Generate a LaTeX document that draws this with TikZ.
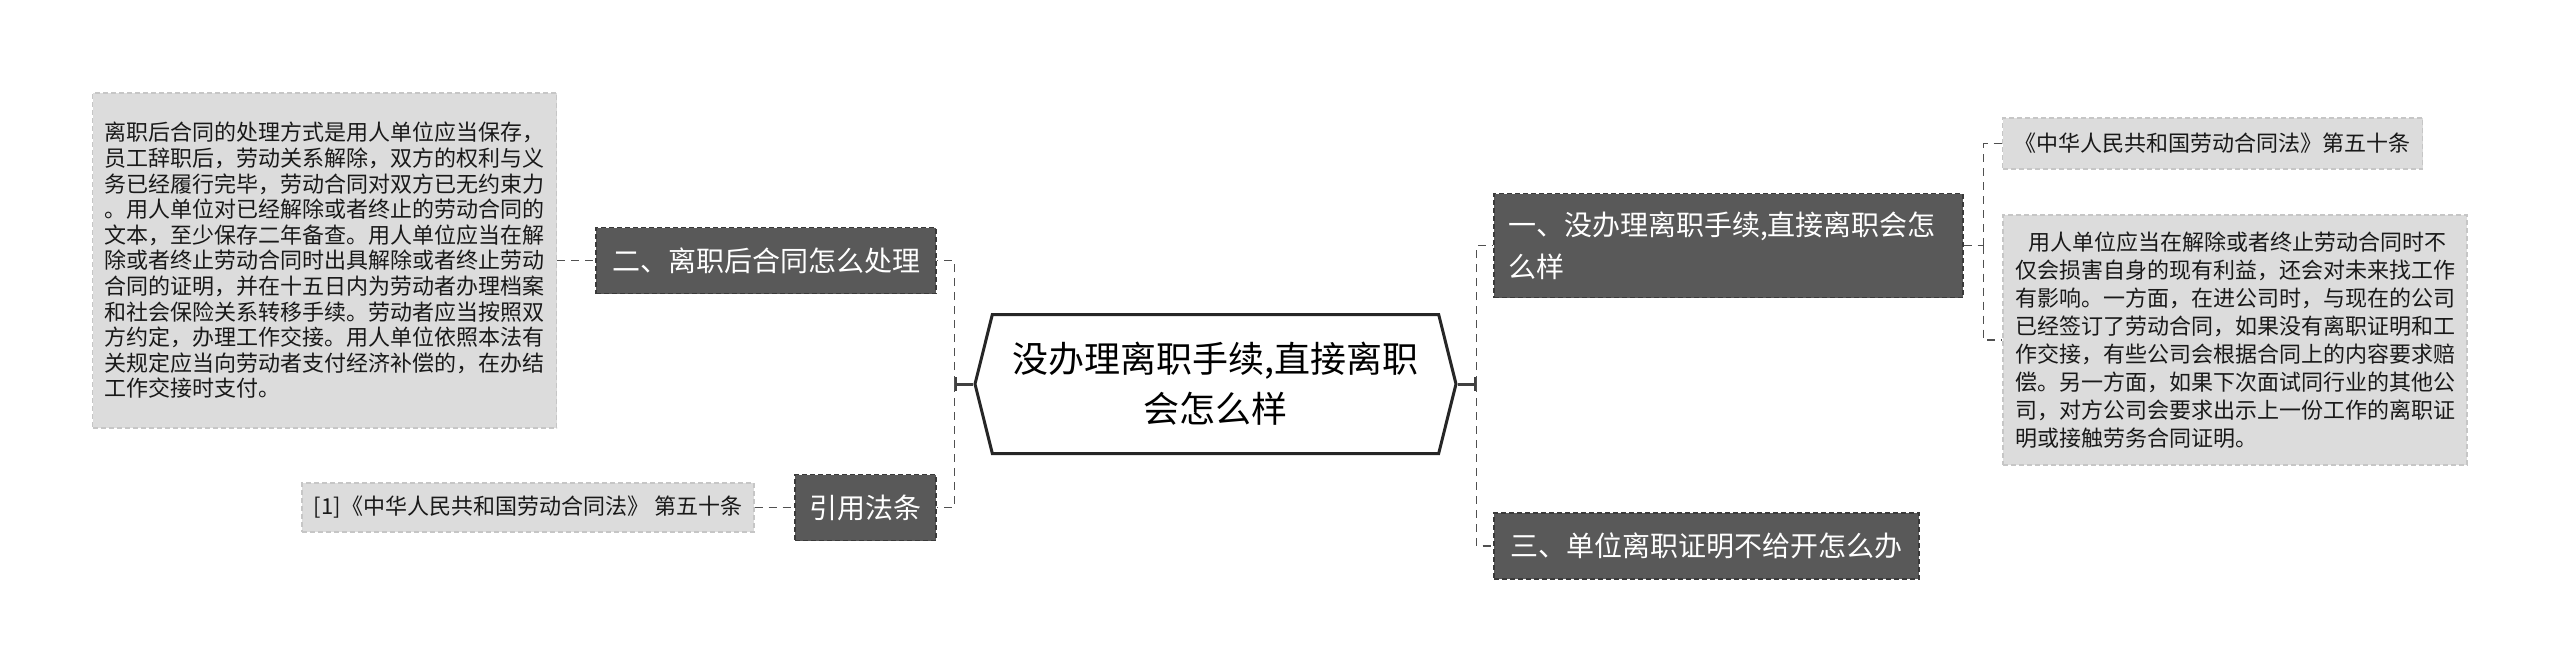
\documentclass[tikz,border=0pt]{standalone}
\usepackage{fontspec}
\setmainfont{Noto Sans CJK SC}
\usetikzlibrary{positioning,shapes.symbols,arrows.meta}
\definecolor{topicgray}{HTML}{595959}
\definecolor{topicline}{HTML}{3A3A3A}
\definecolor{notegray}{HTML}{DCDCDC}
\definecolor{noteline}{HTML}{C6C6C6}
\definecolor{linkgray}{HTML}{505050}
\tikzset{
  topic/.style={draw=topicline, dash pattern=on 5pt off 3pt, line width=1.2pt,
    fill=topicgray, text=white, font=\fontsize{28}{40}\selectfont,
    minimum height=66pt, inner xsep=14pt},
  note/.style={draw=noteline, dash pattern=on 5pt off 3pt, line width=1.2pt,
    fill=notegray, text=black!90, align=left, inner sep=12pt},
  link/.style={draw=linkgray, line width=1.6pt, dash pattern=on 8pt off 6pt},
  rootlink/.style={draw=black!75, line width=3pt, -{Bar[width=14pt]}},
}

\begin{document}
\begin{tikzpicture}[x=1pt,y=-1pt]
\useasboundingbox (0,0) rectangle (2560,672);

\node[signal, signal to=west and east, signal pointer angle=152,
  draw=black!85, line width=3pt, fill=white, align=center,
  font=\fontsize{36}{50}\selectfont, minimum width=481pt, minimum height=139pt]
  (root) at (1215.5,384) {没办理离职手续,直接离职\\会怎么样};

% left side
\node[topic, minimum width=340pt] (dispose) at (766,260.5) {二、离职后合同怎么处理};
\node[topic, minimum width=141pt] (cite) at (865.5,507.5) {引用法条};
\node[note, minimum width=463pt, minimum height=335pt,
  font=\fontsize{22}{25.6}\selectfont] (disposetext) at (324.5,260.5)
  {离职后合同的处理方式是用人单位应当保存，\\
   员工辞职后，劳动关系解除，双方的权利与义\\
   务已经履行完毕，劳动合同对双方已无约束力\\
   。用人单位对已经解除或者终止的劳动合同的\\
   文本，至少保存二年备查。用人单位应当在解\\
   除或者终止劳动合同时出具解除或者终止劳动\\
   合同的证明，并在十五日内为劳动者办理档案\\
   和社会保险关系转移手续。劳动者应当按照双\\
   方约定，办理工作交接。用人单位依照本法有\\
   关规定应当向劳动者支付经济补偿的，在办结\\
   工作交接时支付。};
\node[note, minimum width=452pt, minimum height=49pt,
  font=\fontsize{22}{26}\selectfont] (citelaw) at (528,507.5)
  {[1]《中华人民共和国劳动合同法》 第五十条};

% right side
\node[topic, align=left, text width=441pt, minimum height=104pt,
  font=\fontsize{28}{42}\selectfont]
  (noproc) at (1728.5,245.5) {一、没办理离职手续,直接离职会怎\\么样};
\node[topic, minimum width=425pt] (nocert) at (1706.5,546) {三、单位离职证明不给开怎么办};
\node[note, minimum width=419pt, minimum height=51pt,
  font=\fontsize{22}{26}\selectfont] (noproclaw) at (2212.5,143.5)
  {《中华人民共和国劳动合同法》第五十条};
\node[note, minimum width=464pt, minimum height=250pt,
  font=\fontsize{22}{28}\selectfont] (noproctext) at (2235,340)
  {\hspace{13pt}用人单位应当在解除或者终止劳动合同时不\\
   仅会损害自身的现有利益，还会对未来找工作\\
   有影响。一方面，在进公司时，与现在的公司\\
   已经签订了劳动合同，如果没有离职证明和工\\
   作交接，有些公司会根据合同上的内容要求赔\\
   偿。另一方面，如果下次面试同行业的其他公\\
   司，对方公司会要求出示上一份工作的离职证\\
   明或接触劳务合同证明。};

% connectors
\draw[rootlink] (root.west) -- ++(-19,0) coordinate (lspine);
\draw[link] (lspine) |- (dispose.east);
\draw[link] (lspine) |- (cite.east);
\draw[link] (disposetext.east) -- (dispose.west);
\draw[link] (citelaw.east) -- (cite.west);
\draw[rootlink] (root.east) -- ++(19,0) coordinate (rspine);
\draw[link] (rspine) |- (noproc.west);
\draw[link] (rspine) |- (nocert.west);
\draw[link] (noproc.east) -- ++(20,0) coordinate (nspine);
\draw[link] (nspine) |- (noproclaw.west);
\draw[link] (nspine) |- (noproctext.west);
\end{tikzpicture}
\end{document}
